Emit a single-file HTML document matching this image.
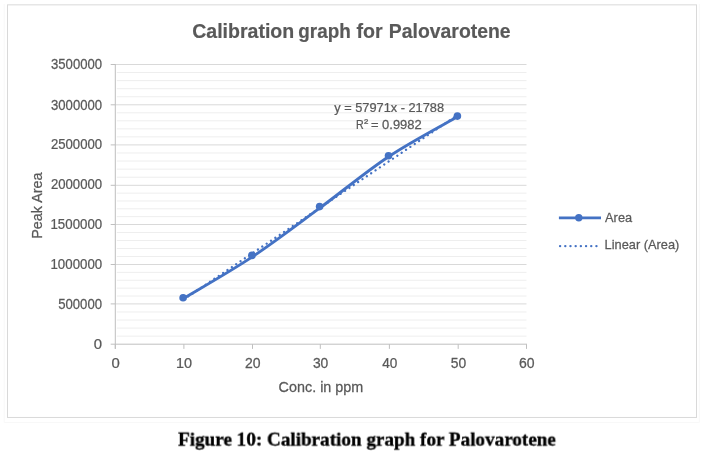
<!DOCTYPE html>
<html><head><meta charset="utf-8"><style>
html,body{margin:0;padding:0;background:#fff;width:705px;height:461px;overflow:hidden}
svg{display:block;will-change:transform}
</style></head><body>
<svg width="705" height="461" viewBox="0 0 705 461">
<path d="M4.2,4 V422.6 H699.3 V4" fill="none" stroke="#f8f8f8" stroke-width="1"/>
<rect x="7.5" y="4.85" width="689" height="412.6" fill="#fff" stroke="#d9d9d9" stroke-width="1"/>
<line x1="116.8" x2="526.5" y1="336.14" y2="336.14" stroke="#eeeeee" stroke-width="1"/>
<line x1="116.8" x2="526.5" y1="328.08" y2="328.08" stroke="#eeeeee" stroke-width="1"/>
<line x1="116.8" x2="526.5" y1="320.02" y2="320.02" stroke="#eeeeee" stroke-width="1"/>
<line x1="116.8" x2="526.5" y1="311.96" y2="311.96" stroke="#eeeeee" stroke-width="1"/>
<line x1="116.8" x2="526.5" y1="296.02" y2="296.02" stroke="#eeeeee" stroke-width="1"/>
<line x1="116.8" x2="526.5" y1="288.14" y2="288.14" stroke="#eeeeee" stroke-width="1"/>
<line x1="116.8" x2="526.5" y1="280.26" y2="280.26" stroke="#eeeeee" stroke-width="1"/>
<line x1="116.8" x2="526.5" y1="272.38" y2="272.38" stroke="#eeeeee" stroke-width="1"/>
<line x1="116.8" x2="526.5" y1="256.50" y2="256.50" stroke="#eeeeee" stroke-width="1"/>
<line x1="116.8" x2="526.5" y1="248.50" y2="248.50" stroke="#eeeeee" stroke-width="1"/>
<line x1="116.8" x2="526.5" y1="240.50" y2="240.50" stroke="#eeeeee" stroke-width="1"/>
<line x1="116.8" x2="526.5" y1="232.50" y2="232.50" stroke="#eeeeee" stroke-width="1"/>
<line x1="116.8" x2="526.5" y1="216.66" y2="216.66" stroke="#eeeeee" stroke-width="1"/>
<line x1="116.8" x2="526.5" y1="208.82" y2="208.82" stroke="#eeeeee" stroke-width="1"/>
<line x1="116.8" x2="526.5" y1="200.98" y2="200.98" stroke="#eeeeee" stroke-width="1"/>
<line x1="116.8" x2="526.5" y1="193.14" y2="193.14" stroke="#eeeeee" stroke-width="1"/>
<line x1="116.8" x2="526.5" y1="177.22" y2="177.22" stroke="#eeeeee" stroke-width="1"/>
<line x1="116.8" x2="526.5" y1="169.14" y2="169.14" stroke="#eeeeee" stroke-width="1"/>
<line x1="116.8" x2="526.5" y1="161.06" y2="161.06" stroke="#eeeeee" stroke-width="1"/>
<line x1="116.8" x2="526.5" y1="152.98" y2="152.98" stroke="#eeeeee" stroke-width="1"/>
<line x1="116.8" x2="526.5" y1="136.88" y2="136.88" stroke="#eeeeee" stroke-width="1"/>
<line x1="116.8" x2="526.5" y1="128.86" y2="128.86" stroke="#eeeeee" stroke-width="1"/>
<line x1="116.8" x2="526.5" y1="120.84" y2="120.84" stroke="#eeeeee" stroke-width="1"/>
<line x1="116.8" x2="526.5" y1="112.82" y2="112.82" stroke="#eeeeee" stroke-width="1"/>
<line x1="116.8" x2="526.5" y1="96.74" y2="96.74" stroke="#eeeeee" stroke-width="1"/>
<line x1="116.8" x2="526.5" y1="88.68" y2="88.68" stroke="#eeeeee" stroke-width="1"/>
<line x1="116.8" x2="526.5" y1="80.62" y2="80.62" stroke="#eeeeee" stroke-width="1"/>
<line x1="116.8" x2="526.5" y1="72.56" y2="72.56" stroke="#eeeeee" stroke-width="1"/>
<line x1="115.3" x2="526.5" y1="303.90" y2="303.90" stroke="#d9d9d9" stroke-width="1"/>
<line x1="110.7" x2="115.3" y1="303.90" y2="303.90" stroke="#bfbfbf" stroke-width="1"/>
<line x1="115.3" x2="526.5" y1="264.50" y2="264.50" stroke="#d9d9d9" stroke-width="1"/>
<line x1="110.7" x2="115.3" y1="264.50" y2="264.50" stroke="#bfbfbf" stroke-width="1"/>
<line x1="115.3" x2="526.5" y1="224.50" y2="224.50" stroke="#d9d9d9" stroke-width="1"/>
<line x1="110.7" x2="115.3" y1="224.50" y2="224.50" stroke="#bfbfbf" stroke-width="1"/>
<line x1="115.3" x2="526.5" y1="185.30" y2="185.30" stroke="#d9d9d9" stroke-width="1"/>
<line x1="110.7" x2="115.3" y1="185.30" y2="185.30" stroke="#bfbfbf" stroke-width="1"/>
<line x1="115.3" x2="526.5" y1="144.90" y2="144.90" stroke="#d9d9d9" stroke-width="1"/>
<line x1="110.7" x2="115.3" y1="144.90" y2="144.90" stroke="#bfbfbf" stroke-width="1"/>
<line x1="115.3" x2="526.5" y1="104.80" y2="104.80" stroke="#d9d9d9" stroke-width="1"/>
<line x1="110.7" x2="115.3" y1="104.80" y2="104.80" stroke="#bfbfbf" stroke-width="1"/>
<line x1="115.3" x2="526.5" y1="64.50" y2="64.50" stroke="#d9d9d9" stroke-width="1"/>
<line x1="110.7" x2="115.3" y1="64.50" y2="64.50" stroke="#bfbfbf" stroke-width="1"/>
<line x1="115.3" x2="115.3" y1="64.0" y2="348.9" stroke="#bfbfbf" stroke-width="1"/>
<line x1="110.7" x2="527.0" y1="344.2" y2="344.2" stroke="#bfbfbf" stroke-width="1"/>
<line x1="115.30" x2="115.30" y1="344.2" y2="348.9" stroke="#bfbfbf" stroke-width="1"/>
<line x1="183.90" x2="183.90" y1="344.2" y2="348.9" stroke="#bfbfbf" stroke-width="1"/>
<line x1="252.50" x2="252.50" y1="344.2" y2="348.9" stroke="#bfbfbf" stroke-width="1"/>
<line x1="320.30" x2="320.30" y1="344.2" y2="348.9" stroke="#bfbfbf" stroke-width="1"/>
<line x1="389.40" x2="389.40" y1="344.2" y2="348.9" stroke="#bfbfbf" stroke-width="1"/>
<line x1="458.20" x2="458.20" y1="344.2" y2="348.9" stroke="#bfbfbf" stroke-width="1"/>
<line x1="526.50" x2="526.50" y1="344.2" y2="348.9" stroke="#bfbfbf" stroke-width="1"/>
<line x1="183.90" y1="299.34" x2="458.20" y2="114.68" stroke="#4472c4" stroke-width="2.3" stroke-linecap="round" stroke-dasharray="0.01 5.24"/>
<path d="M183.1,298.7 C194.57,291.77 229.15,272.18 251.9,257.1 C274.65,242.02 296.83,224.93 319.6,208.2 C342.37,191.47 365.53,171.93 388.5,156.7 C411.47,141.47 445.92,123.45 457.4,116.8" fill="none" stroke="#4472c4" stroke-width="2.9" stroke-linecap="round" stroke-linejoin="round"/>
<circle cx="183.1" cy="297.7" r="3.8" fill="#4472c4"/>
<circle cx="251.9" cy="255.4" r="3.8" fill="#4472c4"/>
<circle cx="319.6" cy="206.6" r="3.8" fill="#4472c4"/>
<circle cx="388.5" cy="155.7" r="3.8" fill="#4472c4"/>
<circle cx="457.4" cy="116.1" r="3.8" fill="#4472c4"/>
<line x1="558.9" x2="601.0" y1="217.9" y2="217.9" stroke="#4472c4" stroke-width="2.75"/>
<circle cx="578.8" cy="217.7" r="3.7" fill="#4472c4"/>
<line x1="560.1" x2="600.8" y1="246.1" y2="246.1" stroke="#4472c4" stroke-width="2.4" stroke-linecap="round" stroke-dasharray="0.01 5.18"/>
<text transform="translate(192.22,37.90) scale(0.9598,1)" font-family='"Liberation Sans", sans-serif' font-weight="bold" font-size="20.35" fill="#595959" stroke="#595959" stroke-width="0.2">Calibration</text>
<text transform="translate(298.34,37.90) scale(0.9278,1)" font-family='"Liberation Sans", sans-serif' font-weight="bold" font-size="20.35" fill="#595959" stroke="#595959" stroke-width="0.2">graph</text>
<text transform="translate(356.51,37.90) scale(0.9640,1)" font-family='"Liberation Sans", sans-serif' font-weight="bold" font-size="20.35" fill="#595959" stroke="#595959" stroke-width="0.2">for</text>
<text transform="translate(388.84,37.90) scale(0.9534,1)" font-family='"Liberation Sans", sans-serif' font-weight="bold" font-size="20.35" fill="#595959" stroke="#595959" stroke-width="0.2">Palovarotene</text>
<text transform="translate(93.85,348.95) scale(1.0565,1)" font-family='"Liberation Sans", sans-serif' font-weight="normal" font-size="14.10" fill="#595959" stroke="#595959" stroke-width="0.25">0</text>
<text transform="translate(58.17,308.61) scale(0.9334,1)" font-family='"Liberation Sans", sans-serif' font-weight="normal" font-size="14.10" fill="#595959" stroke="#595959" stroke-width="0.25">500000</text>
<text transform="translate(50.49,268.84) scale(0.9416,1)" font-family='"Liberation Sans", sans-serif' font-weight="normal" font-size="14.10" fill="#595959" stroke="#595959" stroke-width="0.25">1000000</text>
<text transform="translate(50.49,229.05) scale(0.9416,1)" font-family='"Liberation Sans", sans-serif' font-weight="normal" font-size="14.10" fill="#595959" stroke="#595959" stroke-width="0.25">1500000</text>
<text transform="translate(50.89,189.05) scale(0.9342,1)" font-family='"Liberation Sans", sans-serif' font-weight="normal" font-size="14.10" fill="#595959" stroke="#595959" stroke-width="0.25">2000000</text>
<text transform="translate(50.89,148.84) scale(0.9342,1)" font-family='"Liberation Sans", sans-serif' font-weight="normal" font-size="14.10" fill="#595959" stroke="#595959" stroke-width="0.25">2500000</text>
<text transform="translate(51.02,109.53) scale(0.9317,1)" font-family='"Liberation Sans", sans-serif' font-weight="normal" font-size="14.10" fill="#595959" stroke="#595959" stroke-width="0.25">3000000</text>
<text transform="translate(51.02,69.30) scale(0.9317,1)" font-family='"Liberation Sans", sans-serif' font-weight="normal" font-size="14.10" fill="#595959" stroke="#595959" stroke-width="0.25">3500000</text>
<text transform="translate(111.43,368.00) scale(1.0675,1)" font-family='"Liberation Sans", sans-serif' font-weight="normal" font-size="13.95" fill="#595959" stroke="#595959" stroke-width="0.25">0</text>
<text transform="translate(175.89,368.00) scale(1.0352,1)" font-family='"Liberation Sans", sans-serif' font-weight="normal" font-size="13.95" fill="#595959" stroke="#595959" stroke-width="0.25">10</text>
<text transform="translate(244.95,368.00) scale(1.0047,1)" font-family='"Liberation Sans", sans-serif' font-weight="normal" font-size="13.95" fill="#595959" stroke="#595959" stroke-width="0.25">20</text>
<text transform="translate(312.89,368.00) scale(0.9950,1)" font-family='"Liberation Sans", sans-serif' font-weight="normal" font-size="13.95" fill="#595959" stroke="#595959" stroke-width="0.25">30</text>
<text transform="translate(382.28,368.00) scale(0.9760,1)" font-family='"Liberation Sans", sans-serif' font-weight="normal" font-size="13.95" fill="#595959" stroke="#595959" stroke-width="0.25">40</text>
<text transform="translate(450.79,368.00) scale(0.9950,1)" font-family='"Liberation Sans", sans-serif' font-weight="normal" font-size="13.95" fill="#595959" stroke="#595959" stroke-width="0.25">50</text>
<text transform="translate(518.95,368.00) scale(1.0047,1)" font-family='"Liberation Sans", sans-serif' font-weight="normal" font-size="13.95" fill="#595959" stroke="#595959" stroke-width="0.25">60</text>
<text transform="translate(334.30,111.60) scale(0.9457,1)" font-family='"Liberation Sans", sans-serif' font-weight="normal" font-size="13.52" fill="#595959" stroke="#595959" stroke-width="0.25">y = 57971x - 21788</text>
<text transform="translate(355.95,129.10) scale(0.7815,1)" font-family='"Liberation Sans", sans-serif' font-weight="normal" font-size="13.66" fill="#595959" stroke="#595959" stroke-width="0.25">R</text>
<text transform="translate(363.94,126.57) scale(1.0936,1)" font-family='"Liberation Sans", sans-serif' font-weight="normal" font-size="11.67" fill="#595959" stroke="#595959" stroke-width="0.25">²</text>
<text transform="translate(370.95,129.10) scale(0.9484,1)" font-family='"Liberation Sans", sans-serif' font-weight="normal" font-size="13.66" fill="#595959" stroke="#595959" stroke-width="0.25">= 0.9982</text>
<text transform="translate(278.58,391.70) scale(0.9909,1)" font-family='"Liberation Sans", sans-serif' font-weight="normal" font-size="14.53" fill="#595959" stroke="#595959" stroke-width="0.25">Conc. in ppm</text>
<text transform="translate(41.70,238.75) rotate(-90) scale(1.0104,1)" font-family='"Liberation Sans", sans-serif' font-weight="normal" font-size="14.24" fill="#595959" stroke="#595959" stroke-width="0.25">Peak Area</text>
<text transform="translate(605.10,221.90) scale(0.9366,1)" font-family='"Liberation Sans", sans-serif' font-weight="normal" font-size="13.66" fill="#595959" stroke="#595959" stroke-width="0.25">Area</text>
<text transform="translate(604.58,249.40) scale(0.9581,1)" font-family='"Liberation Sans", sans-serif' font-weight="normal" font-size="13.37" fill="#595959" stroke="#595959" stroke-width="0.25">Linear (Area)</text>
<text transform="translate(178.02,445.60) scale(0.9725,1)" font-family='"Liberation Serif", serif' font-weight="bold" font-size="19.69" fill="#000" stroke="#000" stroke-width="0.35">Figure 10: Calibration graph for Palovarotene</text>
</svg>
</body></html>
